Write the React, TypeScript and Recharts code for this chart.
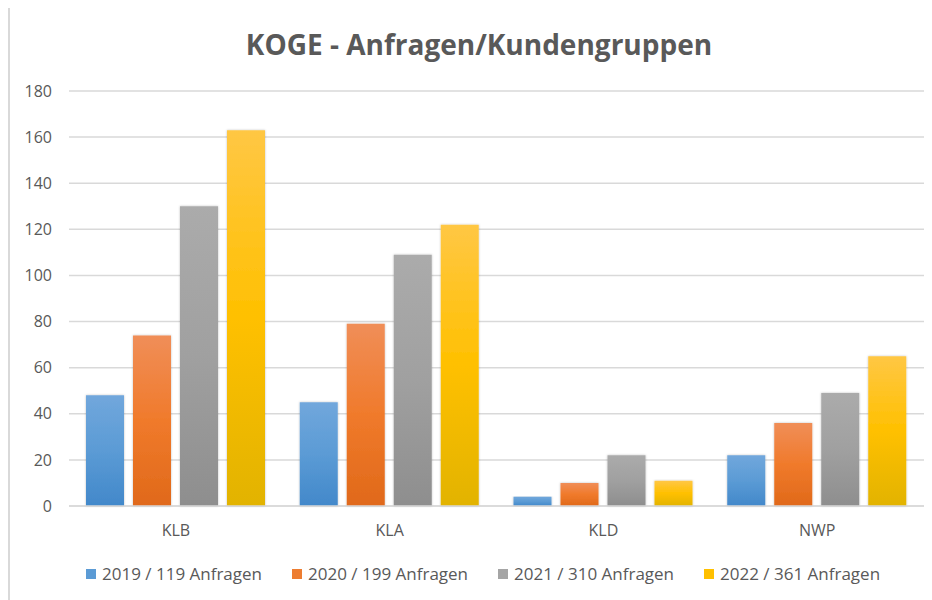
import { BarChart, Bar, XAxis, YAxis, CartesianGrid } from 'recharts';

/* ── Data ─────────────────────────────────────────────────────────────────── */

const categories = ['KLB', 'KLA', 'KLD', 'NWP'];

const values2019 = [48, 45, 4, 22];
const values2020 = [74, 79, 10, 36];
const values2021 = [130, 109, 22, 49];
const values2022 = [163, 122, 11, 65];

const seriesNames = [
  '2019 / 119 Anfragen',
  '2020 / 199 Anfragen',
  '2021 / 310 Anfragen',
  '2022 / 361 Anfragen',
];

const yTicks = [0, 20, 40, 60, 80, 100, 120, 140, 160, 180];

/* ── Styles ───────────────────────────────────────────────────────────────── */

const FONT = '"Open Sans", sans-serif';
const TEXT = '#595959';
const GRID = '#d9d9d9';

const seriesStyles = [
  { key: 's2019', grad: 'g2019', swatch: '#5b9bd5', stops: ['#71a7dc', '#5b9bd5', '#4288ca'] },
  { key: 's2020', grad: 'g2020', swatch: '#ed7d31', stops: ['#f08e58', '#f07a2b', '#e0691a'] },
  { key: 's2021', grad: 'g2021', swatch: '#a5a5a5', stops: ['#ababab', '#a0a0a0', '#8e8e8e'] },
  { key: 's2022', grad: 'g2022', swatch: '#ffc000', stops: ['#ffc744', '#ffc000', '#e2b300'] },
];

const data = categories.map((name, i) => ({
  name,
  s2019: values2019[i],
  s2020: values2020[i],
  s2021: values2021[i],
  s2022: values2022[i],
}));

export default function App() {
  return (
    <div style={{ position: 'relative', width: 924, height: 592, fontFamily: FONT }}>
      {/* chart frame, only top and left edges are visible in the crop */}
      <div
        style={{
          position: 'absolute',
          left: 0,
          top: -2,
          right: 0,
          bottom: 0,
          borderTop: `2px solid ${GRID}`,
          borderLeft: `2px solid ${GRID}`,
        }}
      />

      <div
        style={{
          position: 'absolute',
          left: 0,
          top: 22,
          width: 942,
          textAlign: 'center',
          fontSize: 28,
          lineHeight: '28px',
          fontWeight: 700,
          color: TEXT,
        }}
      >
        KOGE - Anfragen/Kundengruppen
      </div>

      <BarChart
        width={924}
        height={592}
        data={data}
        margin={{ top: 83, right: 8, left: 0, bottom: 64 }}
        barSize={38}
        barGap={9}
      >
        <defs>
          {seriesStyles.map((s) => (
            <linearGradient key={s.grad} id={s.grad} x1="0" y1="0" x2="0" y2="1">
              <stop offset="0%" stopColor={s.stops[0]} />
              <stop offset="50%" stopColor={s.stops[1]} />
              <stop offset="100%" stopColor={s.stops[2]} />
            </linearGradient>
          ))}
          <filter id="barShadow" x="-20%" y="-5%" width="140%" height="110%">
            <feDropShadow dx="0" dy="0" stdDeviation="1.2" floodColor="#000" floodOpacity="0.25" />
          </filter>
        </defs>
        <CartesianGrid vertical={false} stroke={GRID} strokeWidth={1.5} />
        <XAxis
          dataKey="name"
          height={30}
          tickLine={false}
          axisLine={{ stroke: GRID, strokeWidth: 1.5 }}
          tickMargin={13}
          tick={{ fill: TEXT, fontSize: 16, fontFamily: FONT }}
        />
        <YAxis
          width={61}
          domain={[0, 180]}
          ticks={yTicks}
          interval={0}
          tickLine={false}
          axisLine={false}
          tickMargin={11}
          tick={{ fill: TEXT, fontSize: 16, fontFamily: FONT }}
        />
        {seriesStyles.map((s, i) => (
          <Bar
            key={s.key}
            dataKey={s.key}
            name={seriesNames[i]}
            fill={`url(#${s.grad})`}
            filter="url(#barShadow)"
            isAnimationActive={false}
          />
        ))}
      </BarChart>

      {/* legend */}
      <div
        style={{
          position: 'absolute',
          left: 78,
          top: 557,
          display: 'flex',
          gap: 30,
          fontSize: 17,
          lineHeight: '17px',
          color: TEXT,
          whiteSpace: 'nowrap',
        }}
      >
        {seriesStyles.map((s, i) => (
          <div key={s.key} style={{ display: 'flex', alignItems: 'center' }}>
            <span
              style={{
                display: 'inline-block',
                width: 10,
                height: 10,
                marginRight: 6,
                background: s.swatch,
              }}
            />
            <span>{seriesNames[i]}</span>
          </div>
        ))}
      </div>
    </div>
  );
}
